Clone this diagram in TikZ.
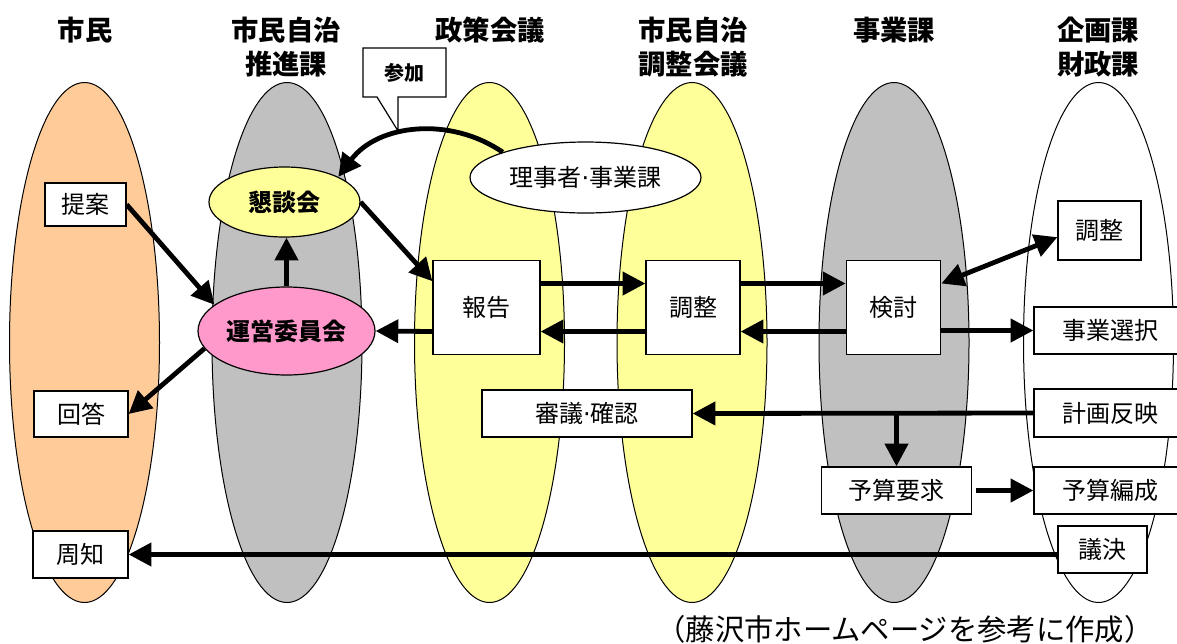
\documentclass[tikz,border=0pt]{standalone}
\usepackage{fontspec}
\setmainfont{Noto Sans CJK JP}
\newfontfamily\dotfont{DejaVu Sans}
\usetikzlibrary{shapes.geometric,arrows.meta}
\definecolor{corange}{HTML}{FFCC99}
\definecolor{cgray}{HTML}{C0C0C0}
\definecolor{cyellow}{HTML}{FFFF99}
\definecolor{cpink}{HTML}{FF99CC}
\newcommand\ndot{{\dotfont ·}}
\tikzset{
  col/.style={ellipse,draw=black,line width=0.75pt,minimum width=112.5pt,minimum height=390pt,inner sep=0pt},
  ttl/.style={font=\fontsize{20.5}{26}\selectfont\bfseries,align=center},
  box/.style={draw=black,fill=white,line width=0.9pt,inner sep=0pt,font=\fontsize{18}{20}\selectfont},
  oval/.style={ellipse,draw=black,line width=0.9pt,inner sep=0pt,font=\fontsize{18}{20}\selectfont},
  arr/.style={line width=3.6pt,-{Triangle[length=17pt,width=17pt]}},
  darr/.style={line width=3.6pt,{Triangle[length=17pt,width=17pt]}-{Triangle[length=17pt,width=17pt]}}
}
\begin{document}
\begin{tikzpicture}[x=0.75pt,y=-0.75pt]
\useasboundingbox (0,0) rectangle (1177,643);
\fill[white] (0,0) rectangle (1177,643);
% titles
\node[ttl] (t1) at (85,30) {市民};
\node[ttl] (t2) at (286,47) {市民自治\\推進課};
\node[ttl] (t3) at (490,30) {政策会議};
\node[ttl] (t4) at (693,47) {市民自治\\調整会議};
\node[ttl] (t5) at (894,30) {事業課};
\node[ttl] (t6) at (1098,47) {企画課\\財政課};
% columns
\node[col,fill=corange] (c1) at (84.5,342.5) {};
\node[col,fill=cgray] (c2) at (287,342.5) {};
\node[col,fill=cyellow] (c3) at (489.5,342.5) {};
\node[col,fill=cyellow] (c4) at (692,342.5) {};
\node[col,fill=cgray] (c5) at (894,342.5) {};
\node[col,fill=white] (c6) at (1098.5,342.5) {};
% callout
\filldraw[fill=white,draw=black,line width=0.9pt] (363,48) -- (446,48) -- (446,97) -- (398,97) -- (398,131) -- (377,97) -- (363,97) -- cycle;
\node[font=\fontsize{15}{17}\selectfont\bfseries] (sanka) at (404.5,72.5) {参加};
% ellipses
\node[oval,fill=white,minimum width=173.25pt,minimum height=53.25pt] (riji) at (585.5,177.5) {理事者\ndot 事業課};
\node[oval,fill=cyellow,minimum width=113.25pt,minimum height=52.5pt,font=\fontsize{18}{20}\selectfont\bfseries] (konda) at (284.5,202) {懇談会};
\node[oval,fill=cpink,minimum width=132.75pt,minimum height=66pt,font=\fontsize{18}{20}\selectfont\bfseries] (unei) at (286.5,331) {運営委員会};
% boxes
\node[box,minimum width=60.75pt,minimum height=32.25pt] (teian) at (85.5,204.5) {提案};
\node[box,minimum width=70.5pt,minimum height=34.5pt] (kaitou) at (81,414) {回答};
\node[box,minimum width=71.25pt,minimum height=35.25pt] (shuchi) at (80.5,554.5) {周知};
\node[box,minimum width=80.25pt,minimum height=70.5pt] (houkoku) at (486.5,307.5) {報告};
\node[box,minimum width=70.5pt,minimum height=70.5pt] (chousei) at (693,307.5) {調整};
\node[box,minimum width=70.9pt,minimum height=70.5pt] (kentou) at (893.5,307.5) {検討};
\node[box,minimum width=62.25pt,minimum height=44.25pt] (chousei2) at (1099.5,230.5) {調整};
\node[box,minimum width=114pt,minimum height=35.25pt] (jigyo) at (1110,330.5) {事業選択};
\node[box,minimum width=114pt,minimum height=36pt] (keikaku) at (1110,413) {計画反映};
\node[box,minimum width=157.5pt,minimum height=35.25pt] (shingi) at (587,413.5) {審議\ndot 確認};
\node[box,minimum width=112.5pt,minimum height=35.25pt] (yosan) at (896.5,490.5) {予算要求};
\node[box,minimum width=114pt,minimum height=35.25pt] (hensei) at (1110,490.5) {予算編成};
\node[box,minimum width=66.75pt,minimum height=35.25pt] (giketsu) at (1102.5,549.5) {議決};
% arrows
\draw[arr] (riji.163) .. controls (450,116) and (378,124) .. (konda.north east);
\draw[arr] (teian.east) -- (unei.160);
\draw[arr] (unei.192) -- (kaitou.east);
\draw[arr] (unei.north) -- (unei.north |- konda.south);
\draw[arr] (konda.east) -- ([yshift=-16pt]houkoku.north west);
\draw[arr] ([yshift=18pt]houkoku.east) -- ([yshift=18pt]chousei.west);
\draw[arr] ([yshift=18pt]chousei.east) -- ([yshift=18pt]kentou.west);
\draw[arr] ([yshift=-18pt]kentou.west) -- ([yshift=-18pt]chousei.east);
\draw[arr] ([yshift=-18pt]chousei.west) -- ([yshift=-18pt]houkoku.east);
\draw[arr] ([yshift=-18pt]houkoku.west) -- (unei.east);
\draw[darr] ([yshift=18pt]kentou.east) -- ([yshift=-5pt]chousei2.west);
\draw[arr] (kentou.east |- jigyo.west) -- (jigyo.west);
\draw[arr] (keikaku.west) -- (shingi.east);
\draw[arr] (yosan.north |- keikaku.west) -- (yosan.north);
\draw[arr,shorten <=3pt] (yosan.east) -- (hensei.west);
\draw[arr] (giketsu.west |- shuchi.east) -- (shuchi.east);
% footer
\node[font=\fontsize{22}{24}\selectfont] (src) at (905,629) {（藤沢市ホームページを参考に作成）};
\end{tikzpicture}
\end{document}
